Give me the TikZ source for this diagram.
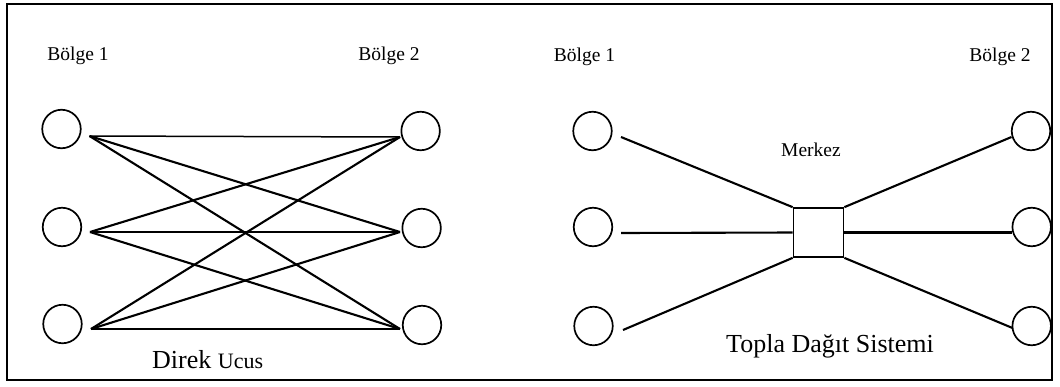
\documentclass[tikz,border=0pt]{standalone}
\usepackage{fontspec}
\setmainfont{Liberation Serif}
\begin{document}
\begin{tikzpicture}[x=1pt,y=-1pt,
  site/.style={circle,draw,line width=1.7pt,minimum size=38.5pt,inner sep=0pt},
  hub/.style={rectangle,draw,line width=1.7pt,minimum width=50pt,minimum height=49pt,inner sep=0pt},
  link/.style={line width=2.1pt},
  thinlink/.style={line width=1.5pt},
  lbl/.style={anchor=base,inner sep=0pt,font=\fontsize{19.5}{20}\selectfont},
  title/.style={anchor=base,inner sep=0pt}
]
\useasboundingbox (0,0) rectangle (1060,386);
\draw[line width=1.5pt] (7,4) rectangle (1052,380);

% ---- direct flights ----
\node[lbl] (dA) at (78,60) {Bölge 1};
\node[lbl] (dB) at (389,60) {Bölge 2};
\node[site] (a1) at (61.5,129) {};
\node[site] (a2) at (62,227) {};
\node[site] (a3) at (62.5,324) {};
\node[site] (b1) at (420.6,131) {};
\node[site] (b2) at (421.6,228) {};
\node[site] (b3) at (422,325) {};
\coordinate (pa1) at (89.5,136);
\coordinate (pa2) at (90,232);
\coordinate (pa3) at (91,329);
\coordinate (pb1) at (400,137);
\coordinate (pb2) at (400,232);
\coordinate (pb3) at (400,329);
\draw[thinlink] (pa1) -- (pb1);
\draw[thinlink] (pa2) -- (pb2);
\draw[thinlink] (pa3) -- (pb3);
\foreach \i/\j in {1/2,1/3,2/1,2/3,3/1,3/2}
  \draw[link] (pa\i) -- (pb\j);
\node[title,anchor=base west] (dtitle) at (152,368)
  {{\fontsize{26}{28}\selectfont Direk\ }{\fontsize{22}{24}\selectfont Ucus}};

% ---- hub and spoke ----
\node[lbl] (hA) at (584.5,61) {Bölge 1};
\node[lbl] (hB) at (1000,61) {Bölge 2};
\node[site] (c1) at (592.5,131) {};
\node[site] (c2) at (593,227) {};
\node[site] (c3) at (593.5,326) {};
\node[site] (e1) at (1031,131) {};
\node[site] (e2) at (1031.7,227) {};
\node[site] (e3) at (1031.7,326) {};
\node[hub] (m) at (818.5,232.5) {};
\node[lbl] (mlbl) at (811,156) {Merkez};
\coordinate (pc1) at (621,137);
\coordinate (pc2) at (621,233);
\coordinate (pc3) at (623,330);
\coordinate (pe1) at (1011.5,137);
\coordinate (pe2) at (1012,232.5);
\coordinate (pe3) at (1012.5,328);
\draw[link] (pc1) -- (m.north west);
\draw[link] (pc2) -- (m.west);
\draw[link] (pc3) -- (m.south west);
\draw[link] (m.north east) -- (pe1);
\draw[link] (m.east) -- (pe2);
\draw[link] (m.south east) -- (pe3);
\node[title,font=\fontsize{26}{28}\selectfont] (htitle) at (830,352) {Topla Dağıt Sistemi};
\end{tikzpicture}
\end{document}
